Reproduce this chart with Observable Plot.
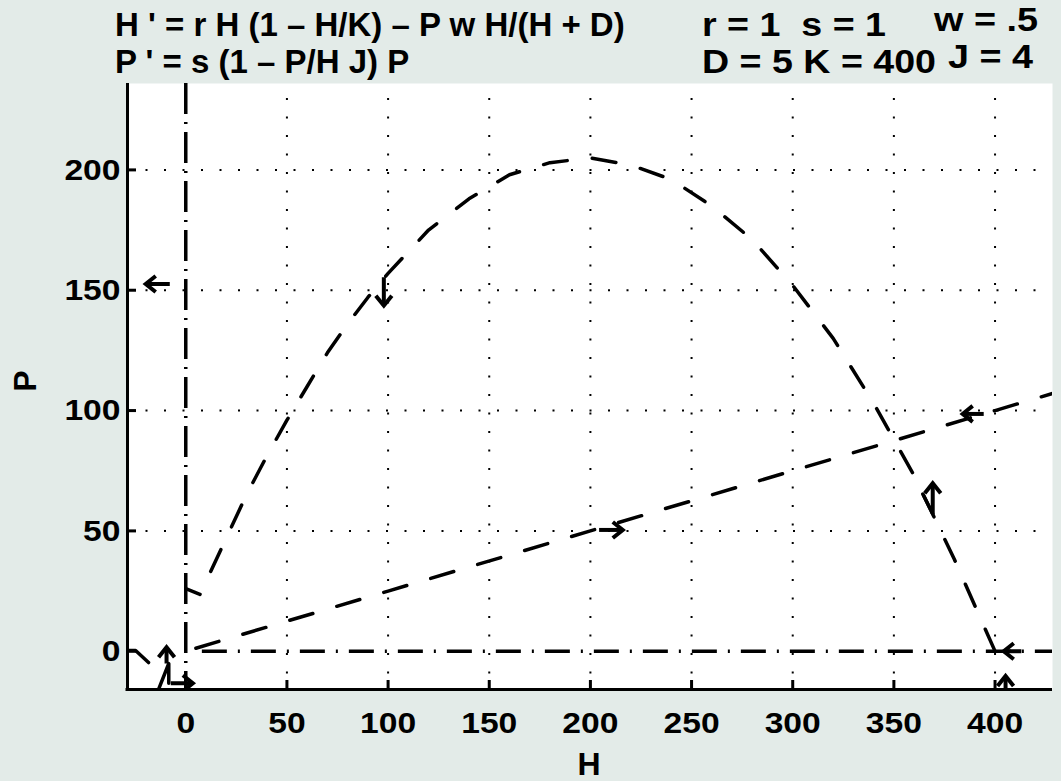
<!DOCTYPE html>
<html><head><meta charset="utf-8">
<script src="https://cdn.jsdelivr.net/npm/d3@7"></script>
<script src="https://cdn.jsdelivr.net/npm/@observablehq/plot@0.6"></script>
<style>
html,body{margin:0;padding:0;background:#e3ebe8;}
#wrap{position:relative;width:1061px;height:781px;overflow:hidden;}
#wrap > svg{position:absolute;left:0;top:0;}
.t{font-family:"Liberation Sans",Arial,sans-serif;font-weight:bold;fill:#000;white-space:pre;}
</style></head><body><div id="wrap"></div>
<script>
// ---- data ----
const xTicks = [0, 50, 100, 150, 200, 250, 300, 350, 400];
const yTicks = [0, 50, 100, 150, 200];
// prey nullcline (H' = 0, non-trivial branch)
const preyH = [0, 7, 10, 20, 30, 40, 50, 60, 70, 80, 90, 100, 120, 140, 160, 180, 200, 220, 240, 260, 280, 300, 320, 340, 360, 380, 400];
const preyP = [26, 23.6, 29, 47, 65, 81, 96, 110, 124, 136, 147, 157, 175, 188, 198, 203, 205, 202, 196, 185, 171, 152, 130, 103, 73, 38, 0];
// predator nullcline (P' = 0, non-trivial branch)
const predH = [5, 100, 200, 300, 400, 430];
const predP = [1.25, 25, 50, 75, 100, 107.5];
// trivial nullclines H = 0 and P = 0
const hZeroLine = [0];
const pZeroLine = [0];
const pZeroFrom = 8.2, pZeroTo = 430;
// direction arrows  (tail -> head)
const arrH1 = [-7.9, 97.9, 204.3, 394.4, 369.2, 413, 405.2, -9.5, -7.4];
const arrP1 = [152.6, 155.4, 50.4, 98.6, 57.1, 0, -20, -5.1, -13.3];
const arrH2 = [-19.8, 97.9, 216, 384, 369.2, 404.3, 405.2, -9.5, 3.5];
const arrP2 = [152.6, 143.6, 50.4, 98.6, 69.8, 0, -10.3, 1.7, -13.3];
// short trajectory pieces
const segId = [0, 0, 0, 1, 1, 1, 2, 2];
const segH = [-28.8, -24.8, -18.4, -13.3, -8.4, -8.4, 364.3, 369.2];
const segP = [0.3, 0.3, -4.7, -15.5, -5.1, -13.3, 65.3, 57.1];

const xDomain = [-28.8, 428.4];
const yDomain = [-15.9, 235.9];

const arrows = arrH1.map((d, i) => {
  const dx = arrH2[i] - d, dy = arrP2[i] - arrP1[i];
  const rot = Math.abs(dx) >= Math.abs(dy) ? (dx > 0 ? 0 : 180) : (dy > 0 ? -90 : 90);
  return {x1: d, y1: arrP1[i], x2: arrH2[i], y2: arrP2[i], rot};
});
const prey = preyH.map((h, i) => ({h, p: preyP[i]}));
const pred = predH.map((h, i) => ({h, p: predP[i]}));
const segs = segH.map((h, i) => ({h, p: segP[i], id: segId[i]}));

// open chevron arrow head pointing to +x, tip at the dot's position
const chevron = {
  draw(ctx, size) {
    const s = Math.sqrt(size / Math.PI);
    ctx.moveTo(-s, -0.8 * s);
    ctx.lineTo(0, 0);
    ctx.lineTo(-s, 0.8 * s);
  }
};

const chart = Plot.plot({
  width: 1061, height: 781,
  marginLeft: 127, marginRight: 9, marginTop: 83, marginBottom: 92,
  x: {domain: xDomain, ticks: xTicks, label: null},
  y: {domain: yDomain, ticks: yTicks, label: null},
  style: {background: "transparent", fontFamily: "'Liberation Sans', Arial, sans-serif", fontWeight: "bold", fontSize: "30px", color: "black", overflow: "visible"},
  marks: [
    Plot.frame({fill: "white", stroke: null}),
    Plot.ruleX(xTicks.filter(d => d !== 0), {stroke: "black", strokeWidth: 2, strokeDasharray: "2,16.5", strokeDashoffset: 3.5}),
    Plot.ruleY(yTicks.filter(d => d !== 0), {stroke: "black", strokeWidth: 2, strokeDasharray: "2,16.5"}),
    Plot.ruleX(hZeroLine, {stroke: "black", strokeWidth: 3.5, strokeDasharray: "31,8,2,8"}),
    Plot.ruleY(pZeroLine, {x1: pZeroFrom, x2: pZeroTo, stroke: "black", strokeWidth: 3.5, strokeDasharray: "25,11,2,11", clip: true}),
    Plot.line(prey, {x: "h", y: "p", stroke: "black", strokeWidth: 3.5, strokeDasharray: "24,25.2", strokeDashoffset: 8.5, clip: true}),
    Plot.line(pred, {x: "h", y: "p", stroke: "black", strokeWidth: 3.5, strokeDasharray: "24,25", clip: true}),
    Plot.line(segs, {x: "h", y: "p", z: "id", stroke: "black", strokeWidth: 3.5, clip: true}),
    Plot.link(arrows, {x1: "x1", y1: "y1", x2: "x2", y2: "y2", stroke: "black", strokeWidth: 4, clip: true}),
    Plot.dot(arrows, {x: "x2", y: "y2", rotate: "rot", symbol: chevron, r: 10, fill: "none", stroke: "black", strokeWidth: 4, strokeLinejoin: "miter", clip: true}),
    Plot.ruleX([xDomain[0]], {stroke: "black", strokeWidth: 3}),
    Plot.ruleY([yDomain[0]], {stroke: "black", strokeWidth: 3, x1: xDomain[0], x2: xDomain[1], insetLeft: -1.5}),
    Plot.axisX({ticks: xTicks, tickSize: -9, tickPadding: 31, strokeWidth: 3, label: null}),
    Plot.axisY({ticks: yTicks, tickSize: -9, tickPadding: 16, strokeWidth: 3, label: null})
  ]
});
document.getElementById("wrap").appendChild(chart);

// widen the tick labels a little, like the reference's Helvetica rendering
chart.querySelectorAll("g[aria-label$='tick label'] text").forEach(el => {
  const w = el.getComputedTextLength();
  if (w > 0) { el.setAttribute("textLength", (w * 1.12).toFixed(1)); el.setAttribute("lengthAdjust", "spacingAndGlyphs"); }
});

// ---- title, parameters and axis names ----
const ns = "http://www.w3.org/2000/svg";
const ov = document.createElementNS(ns, "svg");
ov.setAttribute("width", 1061); ov.setAttribute("height", 781);
ov.style.pointerEvents = "none";
const texts = [
  {s: "H ' = r H (1 – H/K) – P w H/(H + D)", x: 115, y: 35.5, size: 33},
  {s: "P ' = s (1 – P/H J) P", x: 115, y: 73, size: 33},
  {s: "r = 1  s = 1", x: 702, y: 35.5, size: 33, len: 184},
  {s: "w = .5", x: 934, y: 31, size: 33, len: 104},
  {s: "D = 5 K = 400", x: 702, y: 73, size: 33, len: 234},
  {s: "J = 4", x: 948, y: 68, size: 33, len: 85},
  {s: "H", x: 589, y: 775, size: 32, anchor: "middle"},
  {s: "P", x: 36, y: 381, size: 32, anchor: "middle", rot: -90}
];
for (const t of texts) {
  const el = document.createElementNS(ns, "text");
  el.setAttribute("class", "t");
  el.setAttribute("x", t.x); el.setAttribute("y", t.y);
  el.setAttribute("font-size", t.size);
  if (t.anchor) el.setAttribute("text-anchor", t.anchor);
  if (t.len) { el.setAttribute("textLength", t.len); el.setAttribute("lengthAdjust", "spacingAndGlyphs"); }
  if (t.rot) el.setAttribute("transform", `rotate(${t.rot},${t.x},${t.y})`);
  el.textContent = t.s;
  ov.appendChild(el);
}
document.getElementById("wrap").appendChild(ov);
</script></body></html>
